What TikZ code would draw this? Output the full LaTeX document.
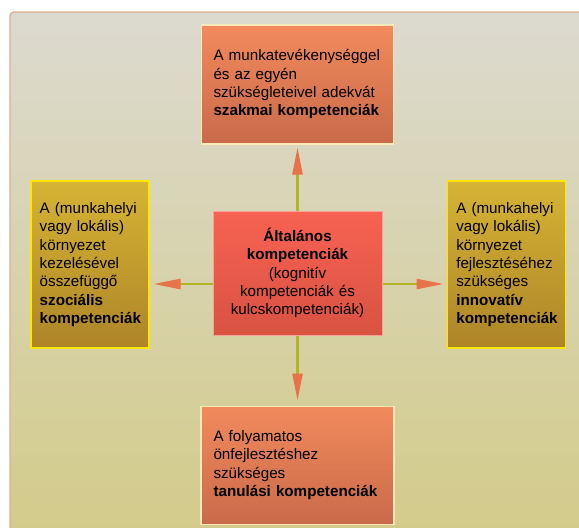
\documentclass[tikz,border=0pt]{standalone}
\usepackage{fontspec}
\setmainfont{Liberation Sans}
\usepackage{tikz}
\usetikzlibrary{arrows.meta,positioning}
\usepackage{xcolor}
\definecolor{paneltop}{HTML}{DCDAD0}
\definecolor{panelbottom}{HTML}{D3CB88}
\definecolor{panelrim}{HTML}{E2AC94}
\definecolor{orangetop}{HTML}{F28A5C}
\definecolor{orangebottom}{HTML}{C96A4A}
\definecolor{goldtop}{HTML}{D6B434}
\definecolor{goldbottom}{HTML}{AE8428}
\definecolor{redtop}{HTML}{F86252}
\definecolor{redbottom}{HTML}{D85242}
\definecolor{linkgreen}{HTML}{B2B624}
\definecolor{tiporange}{HTML}{E8724A}

\begin{document}
\begin{tikzpicture}[
  x=1pt, y=-1pt,
  node distance=66pt,
  every node/.style={inner sep=0pt,font=\fontsize{15.2}{18.3}\selectfont},
  orangebox/.style={rectangle,draw=yellow!35!orange!25,line width=1.2pt,
    top color=orangetop,bottom color=orangebottom,
    minimum width=192pt,minimum height=119pt,
    text width=168pt,align=left},
  goldbox/.style={rectangle,draw=yellow!90!orange,line width=1.6pt,
    top color=goldtop,bottom color=goldbottom,
    minimum width=118pt,minimum height=167pt,
    text width=100pt,align=left},
  hubbox/.style={rectangle,draw=redtop!60!white,line width=1pt,
    top color=redtop,bottom color=redbottom,
    minimum width=169pt,minimum height=124pt,
    text width=162pt,align=center},
  link/.style={draw=linkgreen,line width=2.4pt,
    -{Triangle[length=27pt,width=10pt,color=tiporange]}}
]
  \useasboundingbox (0,0) rectangle (579,528);
  % panel
  \draw[panelrim,line width=1.4pt,rounded corners=4pt,top color=paneltop,bottom color=panelbottom]
    (10,12) rectangle (590,540);

  \node (general) [hubbox] at (297.5,273)
    {\textbf{Általános}\\ \textbf{kompetenciák}\\ (kognitív\\ kompetenciák és\\ kulcskompetenciák)};
  \node (professional) [orangebox,above=66pt of general]
    {A munkatevékenységgel\\ és az egyén\\ szükségleteivel adekvát\\ \textbf{szakmai kompetenciák}};
  \node (social) [goldbox,left=63pt of general,yshift=8.5pt]
    {A (munkahelyi\\ vagy lokális)\\ környezet\\ kezelésével\\ összefüggő\\ \textbf{szociális}\\ \textbf{kompetenciák}};
  \node (innovative) [goldbox,right=64pt of general,yshift=8.5pt]
    {A (munkahelyi\\ vagy lokális)\\ környezet\\ fejlesztéséhez\\ szükséges\\ \textbf{innovatív}\\ \textbf{kompetenciák}};
  \node (learning) [orangebox,below=70pt of general,minimum width=193pt,minimum height=118pt]
    {A folyamatos\\ önfejlesztéshez\\ szükséges\\ \textbf{tanulási kompetenciák}};

  \draw[link,shorten >=3pt] (general.north) -- (professional.south);
  \draw[link,shorten >=5pt] (general.south) -- (learning.north);
  \draw[link,shorten >=4pt] ([yshift=-11pt]general.west) -- ([yshift=-11pt]general.west -| social.east);
  \draw[link,shorten >=3pt] ([yshift=-11pt]general.east) -- ([yshift=-11pt]general.east -| innovative.west);
\end{tikzpicture}
\end{document}
